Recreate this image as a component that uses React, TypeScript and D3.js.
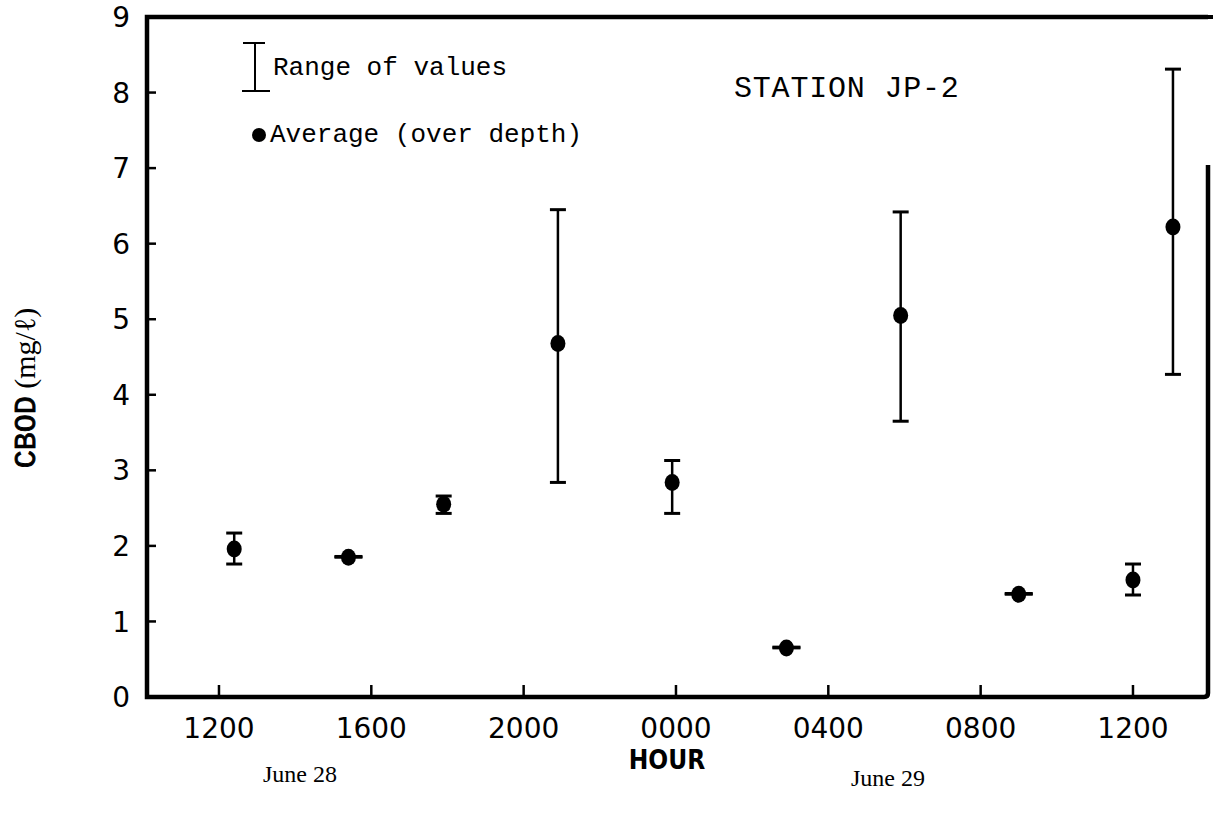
import * as d3 from "d3";

// hours after 1200 June 28
const sampleHours = [0.4, 3.4, 5.9, 8.9, 11.9, 14.9, 17.9, 21.0, 24.0, 25.05];
const averages = [1.96, 1.85, 2.55, 4.68, 2.84, 0.65, 5.05, 1.36, 1.55, 6.22];
const lows = [1.76, 1.85, 2.43, 2.84, 2.43, 0.65, 3.65, 1.36, 1.35, 4.27];
const highs = [2.17, 1.86, 2.66, 6.45, 3.13, 0.66, 6.42, 1.37, 1.76, 8.31];

const hourTicks = [0, 4, 8, 12, 16, 20, 24];
const hourLabels = ["1200", "1600", "2000", "0000", "0400", "0800", "1200"];
const cbodTicks = [0, 1, 2, 3, 4, 5, 6, 7, 8, 9];

const W = 1213;
const H = 816;
const left = 147;
const right = 1208;
const top = 17;
const bottom = 697;

const mono = "'Liberation Mono', 'DejaVu Sans Mono', monospace";
const sans = "'DejaVu Sans', sans-serif";
const serif = "'Liberation Serif', serif";

export default function App() {
  const x = d3.scaleLinear().domain([-1.89, 25.97]).range([left, right]);
  const y = d3.scaleLinear().domain([0, 9]).range([bottom, top]);

  const points = sampleHours.map((h, i) => ({
    h,
    avg: averages[i],
    lo: lows[i],
    hi: highs[i],
  }));

  const frame = d3.path();
  frame.moveTo(right, top);
  frame.lineTo(left, top);
  frame.lineTo(left, bottom);
  frame.lineTo(right - 4, bottom);
  frame.quadraticCurveTo(right, bottom, right, bottom - 4);
  frame.lineTo(right, 165);

  return (
    <svg
      width={W}
      height={H}
      style={{ position: "absolute", left: 0, top: 0, background: "#fff" }}
    >
      <rect width={W} height={H} fill="#fff" />
      <line x1={left} y1={top} x2={W} y2={top} stroke="#000" strokeWidth={4} />
      <path d={frame.toString()} fill="none" stroke="#000" strokeWidth={4.5} />

      {/* y axis */}
      {cbodTicks.map((t) => (
        <g key={"y" + t}>
          {t > 0 && t < 9 && (
            <line x1={left} x2={left + 9} y1={y(t)} y2={y(t)} stroke="#000" strokeWidth={2.5} />
          )}
          <text
            x={130}
            y={y(t)}
            dy="0.36em"
            textAnchor="end"
            fontFamily={sans}
            fontSize={28}
          >
            {t}
          </text>
        </g>
      ))}

      {/* x axis */}
      {hourTicks.map((t, i) => (
        <g key={"x" + t}>
          <line x1={x(t)} x2={x(t)} y1={bottom} y2={bottom - 12} stroke="#000" strokeWidth={2.5} />
          <text x={x(t)} y={738} textAnchor="middle" fontFamily={sans} fontSize={28}>
            {hourLabels[i]}
          </text>
        </g>
      ))}

      <text
        x={667}
        y={769}
        textAnchor="middle"
        fontFamily="'Liberation Sans Narrow', 'DejaVu Sans Condensed', sans-serif"
        fontSize={26}
        fontWeight="bold"
      >
        HOUR
      </text>
      <text x={300} y={782} textAnchor="middle" fontFamily={serif} fontSize={24}>
        June 28
      </text>
      <text x={888} y={786} textAnchor="middle" fontFamily={serif} fontSize={24}>
        June 29
      </text>

      <text
        transform="translate(35,388) rotate(-90)"
        textAnchor="middle"
        fontFamily={mono}
        fontSize={30}
      >
        <tspan stroke="#000" strokeWidth={0.9}>CBOD</tspan>
        <tspan fontFamily={serif}>{"  (mg/ℓ)"}</tspan>
      </text>

      {/* legend */}
      <line x1={255} x2={255} y1={43} y2={91} stroke="#000" strokeWidth={2} />
      <line x1={243} x2={265} y1={43} y2={43} stroke="#000" strokeWidth={2} />
      <line x1={242} x2={270} y1={91} y2={91} stroke="#000" strokeWidth={2} />
      <text x={273} y={75} fontFamily={mono} fontSize={26}>
        Range of values
      </text>
      <circle cx={259} cy={135} r={7} fill="#000" />
      <text x={270} y={142} fontFamily={mono} fontSize={26}>
        Average (over depth)
      </text>
      <text x={734} y={97} fontFamily={mono} fontSize={30} letterSpacing={0.8}>
        STATION JP-2
      </text>

      {/* error bars and averages */}
      {points.map((p, i) => {
        const cx = x(p.h);
        const flat = y(p.lo) - y(p.hi) < 4;
        const cap = flat ? 14 : 8;
        return (
          <g key={"p" + i}>
            <line x1={cx} x2={cx} y1={y(p.hi)} y2={y(p.lo)} stroke="#000" strokeWidth={2.5} />
            <line x1={cx - cap} x2={cx + cap} y1={y(p.hi)} y2={y(p.hi)} stroke="#000" strokeWidth={3} />
            <line x1={cx - cap} x2={cx + cap} y1={y(p.lo)} y2={y(p.lo)} stroke="#000" strokeWidth={3} />
            <ellipse cx={cx} cy={y(p.avg)} rx={7.5} ry={8.5} fill="#000" />
          </g>
        );
      })}
    </svg>
  );
}
